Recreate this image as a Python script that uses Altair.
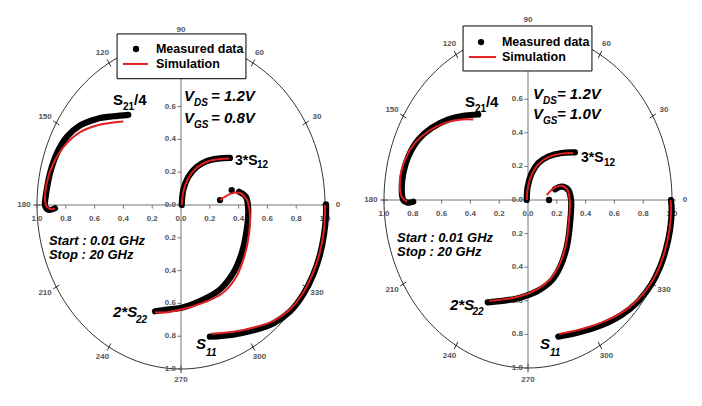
import altair as alt
import pandas as pd

FONT = "Liberation Sans"
RED = "#e02020"

ANGLES = [0, 30, 60, 90, 120, 150, 180, 210, 240, 270, 300, 330]
ANGLE_LABELS = ["0", "30", "60", "90", "120", "150", "180", "210", "240", "270", "300", "330"]
TICKS = [-1.0, -0.8, -0.6, -0.4, -0.2, 0.0, 0.2, 0.4, 0.6, 0.8, 1.0]
TICK_LABELS = ["1.0", "0.8", "0.6", "0.4", "0.2", "0.0", "0.2", "0.4", "0.6", "0.8", "1.0"]
LEGEND_LABELS = ["Measured data", "Simulation"]

# ---------------- Left panel (VGS = 0.8 V) ----------------
L_S21_MX = [-0.875, -0.92, -0.944, -0.94, -0.933, -0.91, -0.863, -0.794, -0.701, -0.585, -0.47, -0.366]
L_S21_MY = [-0.02, -0.03, -0.005, 0.05, 0.091, 0.192, 0.313, 0.414, 0.485, 0.525, 0.541, 0.55]
L_S21_SX = [-0.875, -0.898, -0.933, -0.944, -0.933, -0.887, -0.817, -0.701, -0.585, -0.47, -0.4]
L_S21_SY = [-0.02, -0.026, -0.01, 0.03, 0.131, 0.253, 0.353, 0.444, 0.485, 0.503, 0.509]

L_S12_MX = [0.005, 0.016, 0.051, 0.109, 0.178, 0.259, 0.34]
L_S12_MY = [0.0, 0.091, 0.172, 0.232, 0.268, 0.283, 0.287]
L_S12_SX = [0.005, 0.018, 0.053, 0.11, 0.18, 0.26, 0.335]
L_S12_SY = [0.0, 0.088, 0.168, 0.228, 0.264, 0.279, 0.283]

L_S22_MX = [0.403, 0.451, 0.467, 0.456, 0.422, 0.363, 0.271, 0.155, 0.005, -0.099, -0.181]
L_S22_MY = [0.081, 0.05, -0.03, -0.152, -0.293, -0.414, -0.515, -0.576, -0.626, -0.638, -0.648]
L_S22_SX = [0.271, 0.352, 0.41, 0.458, 0.479, 0.472, 0.4375, 0.382, 0.285, 0.16, 0.007, -0.11, -0.18]
L_S22_SY = [0.03, 0.071, 0.073, 0.03, -0.06, -0.18, -0.32, -0.44, -0.54, -0.594, -0.636, -0.655, -0.655]

L_S11_MX = [1.007, 1.007, 0.993, 0.965, 0.919, 0.849, 0.757, 0.641, 0.502, 0.363, 0.201]
L_S11_MY = [0.004, -0.061, -0.182, -0.303, -0.424, -0.545, -0.65, -0.722, -0.764, -0.79, -0.803]
L_S11_SX = [1.0, 1.0, 0.988, 0.96, 0.914, 0.845, 0.753, 0.638, 0.5, 0.363, 0.21]
L_S11_SY = [0.0, -0.061, -0.182, -0.303, -0.42, -0.54, -0.64, -0.708, -0.748, -0.773, -0.785]

L_DOT_X = [0.271, 0.352]
L_DOT_Y = [0.03, 0.091]

# ---------------- Right panel (VGS = 1.0 V) ----------------
R_S21_MX = [-0.797, -0.84, -0.866, -0.877, -0.866, -0.831, -0.762, -0.669, -0.553, -0.4375, -0.345]
R_S21_MY = [-0.01, -0.015, 0.0, 0.06, 0.16, 0.259, 0.359, 0.429, 0.479, 0.503, 0.509]
R_S21_SX = [-0.84, -0.877, -0.889, -0.854, -0.785, -0.692, -0.576, -0.46, -0.38]
R_S21_SY = [-0.01, 0.02, 0.12, 0.24, 0.34, 0.409, 0.459, 0.479, 0.479]

R_S12_MX = [-0.009, -0.002, 0.026, 0.072, 0.141, 0.234, 0.326]
R_S12_MY = [0.0, 0.08, 0.16, 0.22, 0.259, 0.28, 0.283]
R_S12_SX = [-0.009, 0.0, 0.028, 0.074, 0.142, 0.234, 0.315]
R_S12_SY = [0.0, 0.078, 0.157, 0.216, 0.255, 0.276, 0.279]

R_S22_MX = [0.1875, 0.234, 0.28, 0.299, 0.292, 0.269, 0.222, 0.164, 0.072, -0.009, -0.09, -0.141, -0.28]
R_S22_MY = [0.064, 0.08, 0.06, 0.0, -0.14, -0.28, -0.4, -0.479, -0.539, -0.569, -0.589, -0.596, -0.609]
R_S22_SX = [0.13, 0.1875, 0.234, 0.27, 0.29, 0.283, 0.26, 0.213, 0.155, 0.065, -0.01, -0.09, -0.15, -0.27]
R_S22_SY = [0.03, 0.075, 0.085, 0.065, 0.0, -0.14, -0.28, -0.395, -0.47, -0.53, -0.56, -0.58, -0.59, -0.6]

R_S11_MX = [0.993, 0.998, 0.986, 0.956, 0.917, 0.859, 0.766, 0.651, 0.512, 0.349, 0.21]
R_S11_MY = [0.0, -0.06, -0.18, -0.299, -0.399, -0.499, -0.603, -0.684, -0.745, -0.789, -0.813]
R_S11_SX = [0.99, 0.994, 0.982, 0.952, 0.913, 0.855, 0.762, 0.648, 0.51, 0.349, 0.215]
R_S11_SY = [0.0, -0.06, -0.18, -0.298, -0.396, -0.494, -0.594, -0.672, -0.73, -0.773, -0.797]

R_DOT_X = [0.146]
R_DOT_Y = [0.0]

# ---------------- Annotations ----------------
NOTE_TEXT = ["V", "DS", "= 1.2V", "V", "GS", None, "S", "21", "/4", "3*S", "12",
             "Start : 0.01 GHz", "Stop : 20 GHz", "2*S", "22", "S", "11"]
NOTE_SIZE = [15, 10, 15, 15, 10, 15, 15, 10, 15, 14, 10, 13, 13, 15, 10, 15, 10]
NOTE_ITALIC = [1, 1, 1, 1, 1, 1, 0, 0, 0, 0, 0, 1, 1, 1, 1, 1, 1]

L_NOTE_X = [0.021, 0.09, 0.208, 0.021, 0.09, 0.208, -0.472, -0.403, -0.326, 0.375, 0.528,
            -0.917, -0.917, -0.472, -0.3125, 0.104, 0.174]
L_NOTE_Y = [0.634, 0.603, 0.634, 0.5, 0.47, 0.5, 0.61, 0.578, 0.61, 0.244, 0.226,
            -0.244, -0.329, -0.683, -0.72, -0.878, -0.921]
R_NOTE_X = [0.035, 0.104, 0.201, 0.035, 0.104, 0.201, -0.4375, -0.368, -0.292, 0.368, 0.528,
            -0.91, -0.91, -0.542, -0.385, 0.083, 0.153]
R_NOTE_Y = [0.601, 0.571, 0.601, 0.482, 0.452, 0.482, 0.553, 0.524, 0.553, 0.226, 0.202,
            -0.25, -0.333, -0.655, -0.685, -0.887, -0.929]

# legend geometry (data units): box x1,x2,y1,y2 ; dot x ; line x1,x2 ; text x ; rows y
L_LEG = dict(box=(-0.444, 0.451, 0.77, 1.043), dot=-0.3125, line=(-0.403, -0.229), tx=-0.174, rows=(0.951, 0.86))
R_LEG = dict(box=(-0.451, 0.444, 0.768, 1.036), dot=-0.326, line=(-0.41, -0.222), tx=-0.181, rows=(0.94, 0.851))

H = 390
L_W, R_W = 346, 338
L_XDOM = [-1.2014, 1.2014]
R_XDOM = [-1.2014, 1.1458]
L_YDOM = [-1.1768, 1.2012]
R_YDOM = [-1.1786, 1.1429]


def curves_df(items):
    rows = []
    for name, xs, ys in items:
        for i, (x, y) in enumerate(zip(xs, ys)):
            rows.append({"curve": name, "i": i, "x": x, "y": y})
    return pd.DataFrame(rows)


def panel(meas, sim, dots, vgs_text, nx, ny, leg, xdom, ydom, width):
    xs = alt.Scale(domain=xdom, nice=False, zero=False)
    ys = alt.Scale(domain=ydom, nice=False, zero=False)

    def X(f):
        return alt.X(f, type="quantitative", scale=xs, axis=None)

    def Y(f):
        return alt.Y(f, type="quantitative", scale=ys, axis=None)

    circle = alt.Chart(alt.sequence(0, 362, 2, as_="a")).transform_calculate(
        x="cos(datum.a*PI/180)", y="sin(datum.a*PI/180)"
    ).mark_line(color="black", strokeWidth=0.8).encode(x=X("x"), y=Y("y"), order="a:Q")

    ang = pd.DataFrame({"a": ANGLES, "lab": ANGLE_LABELS})
    ang_ticks = alt.Chart(ang).transform_calculate(
        x1="0.975*cos(datum.a*PI/180)", y1="0.975*sin(datum.a*PI/180)",
        x2="1.025*cos(datum.a*PI/180)", y2="1.025*sin(datum.a*PI/180)"
    ).mark_rule(color="black", strokeWidth=0.8).encode(x=X("x1"), x2="x2:Q", y=Y("y1"), y2="y2:Q")
    ang_labels = alt.Chart(ang).transform_calculate(
        x="1.09*cos(datum.a*PI/180)", y="1.07*sin(datum.a*PI/180)"
    ).mark_text(font=FONT, fontSize=8, fontWeight="bold", color="#555", baseline="middle",
                align="center").encode(x=X("x"), y=Y("y"), text="lab:N")

    axes_df = pd.DataFrame({"x1": [-1, 0], "x2": [1, 0], "y1": [0, -1], "y2": [0, 1]})
    axes = alt.Chart(axes_df).mark_rule(color="#777", strokeWidth=1).encode(
        x=X("x1"), x2="x2:Q", y=Y("y1"), y2="y2:Q")

    tk = pd.DataFrame({"t": TICKS, "lab": TICK_LABELS})
    htick = alt.Chart(tk).transform_calculate(z="0", z2="-0.022").mark_rule(
        color="#555", strokeWidth=0.8).encode(x=X("t"), y=Y("z"), y2="z2:Q")
    hlab = alt.Chart(tk).transform_calculate(z="0").mark_text(
        font=FONT, fontSize=8, fontWeight="bold", color="#555", baseline="middle", align="center",
        dy=14).encode(x=X("t"), y=Y("z"), text="lab:N")
    vtick = alt.Chart(tk).transform_calculate(z="0", z2="-0.025").mark_rule(
        color="#555", strokeWidth=0.8).encode(x=X("z"), x2="z2:Q", y=Y("t"))
    vlab = alt.Chart(tk).transform_filter("datum.t < 0.7").transform_calculate(z="-0.035").mark_text(
        font=FONT, fontSize=8, fontWeight="bold", color="#555", baseline="middle",
        align="right").encode(x=X("z"), y=Y("t"), text="lab:N")

    mdf = curves_df(meas)
    sdf = curves_df(sim)
    mline = alt.Chart(mdf).mark_line(color="black", strokeWidth=6.2, strokeCap="round",
                                      strokeJoin="round", interpolate="catmull-rom").encode(
        x=X("x"), y=Y("y"), detail="curve:N", order="i:Q")
    ddf = pd.DataFrame({"x": dots[0], "y": dots[1]})
    mdots = alt.Chart(ddf).mark_point(filled=True, color="black", size=40, opacity=1).encode(
        x=X("x"), y=Y("y"))
    sline = alt.Chart(sdf).mark_line(color=RED, strokeWidth=2, interpolate="catmull-rom").encode(
        x=X("x"), y=Y("y"), detail="curve:N", order="i:Q")

    texts = list(NOTE_TEXT)
    texts[5] = vgs_text
    ndf = pd.DataFrame({"text": texts, "x": nx, "y": ny, "s": NOTE_SIZE, "it": NOTE_ITALIC})
    notes_it = alt.Chart(ndf).transform_filter("datum.it == 1").mark_text(
        font=FONT, fontWeight="bold", fontStyle="italic", align="left", baseline="alphabetic",
        color="black").encode(x=X("x"), y=Y("y"), text="text:N", size=alt.Size("s:Q", scale=None))
    notes_up = alt.Chart(ndf).transform_filter("datum.it == 0").mark_text(
        font=FONT, fontWeight="bold", align="left", baseline="alphabetic",
        color="black").encode(x=X("x"), y=Y("y"), text="text:N", size=alt.Size("s:Q", scale=None))

    b = leg["box"]
    box = alt.Chart(pd.DataFrame({"x1": [b[0]], "x2": [b[1]], "y1": [b[2]], "y2": [b[3]]})).mark_rect(
        fill="white", stroke="black", strokeWidth=1).encode(x=X("x1"), x2="x2:Q", y=Y("y1"), y2="y2:Q")
    ldot = alt.Chart(pd.DataFrame({"x": [leg["dot"]], "y": [leg["rows"][0]]})).mark_point(
        filled=True, color="black", size=40, opacity=1).encode(x=X("x"), y=Y("y"))
    lline = alt.Chart(pd.DataFrame({"x1": [leg["line"][0]], "x2": [leg["line"][1]],
                                    "y": [leg["rows"][1]]})).mark_rule(color=RED, strokeWidth=2).encode(
        x=X("x1"), x2="x2:Q", y=Y("y"))
    ltxt = alt.Chart(pd.DataFrame({"t": LEGEND_LABELS, "x": [leg["tx"]] * 2, "y": list(leg["rows"])})).mark_text(
        font=FONT, fontWeight="bold", fontSize=12.5, align="left", baseline="middle", color="black").encode(
        x=X("x"), y=Y("y"), text="t:N")

    return alt.layer(circle, ang_ticks, ang_labels, axes, htick, hlab, vtick, vlab,
                     mline, mdots, sline, notes_it, notes_up, box, ldot, lline, ltxt).properties(
        width=width, height=H)


left = panel(
    [("S21", L_S21_MX, L_S21_MY), ("S12", L_S12_MX, L_S12_MY), ("S22", L_S22_MX, L_S22_MY),
     ("S11", L_S11_MX, L_S11_MY)],
    [("S21", L_S21_SX, L_S21_SY), ("S12", L_S12_SX, L_S12_SY), ("S22", L_S22_SX, L_S22_SY),
     ("S11", L_S11_SX, L_S11_SY)],
    (L_DOT_X, L_DOT_Y), "= 0.8V", L_NOTE_X, L_NOTE_Y, L_LEG, L_XDOM, L_YDOM, L_W)

right = panel(
    [("S21", R_S21_MX, R_S21_MY), ("S12", R_S12_MX, R_S12_MY), ("S22", R_S22_MX, R_S22_MY),
     ("S11", R_S11_MX, R_S11_MY)],
    [("S21", R_S21_SX, R_S21_SY), ("S12", R_S12_SX, R_S12_SY), ("S22", R_S22_SX, R_S22_SY),
     ("S11", R_S11_SX, R_S11_SY)],
    (R_DOT_X, R_DOT_Y), "= 1.0V", R_NOTE_X, R_NOTE_Y, R_LEG, R_XDOM, R_YDOM, R_W)

chart = alt.hconcat(left, right, spacing=1).properties(padding=0).configure_view(stroke=None)
chart.save("out.html", embed_options={"renderer": "svg", "actions": False})
